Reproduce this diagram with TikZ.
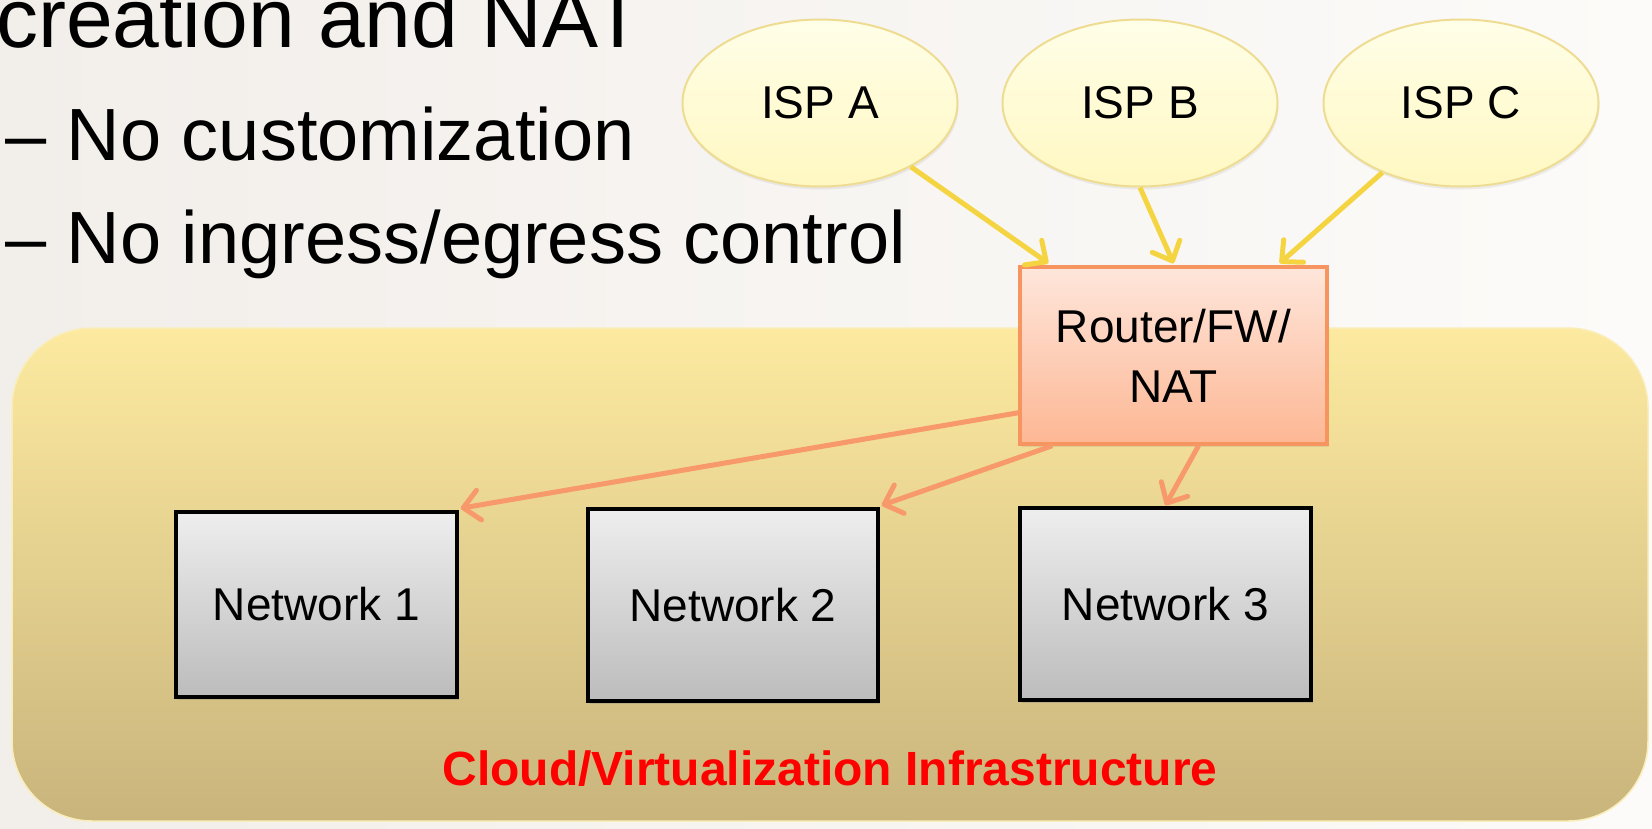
\documentclass[tikz,border=0pt]{standalone}
\usepackage{fontspec}
\setmainfont{Liberation Sans}
\usetikzlibrary{arrows.meta,shadows,shapes.geometric}

\definecolor{pageL}{HTML}{F2EEEA}
\definecolor{pageR}{HTML}{FCFBF9}
\definecolor{cloudTop}{HTML}{FDEAA0}
\definecolor{cloudBot}{HTML}{C9B47C}
\definecolor{cloudEdge}{HTML}{F9EDB9}
\definecolor{ispTop}{HTML}{FFFEE8}
\definecolor{ispBot}{HTML}{FFF8C2}
\definecolor{ispEdge}{HTML}{EEDC92}
\definecolor{fwTop}{HTML}{FEE6DB}
\definecolor{fwBot}{HTML}{FDB794}
\definecolor{fwEdge}{HTML}{F79560}
\definecolor{netTop}{HTML}{EEEEEE}
\definecolor{netBot}{HTML}{BCBCBC}
\definecolor{upLink}{HTML}{F5D442}
\definecolor{downLink}{HTML}{F7996A}
\definecolor{labelRed}{HTML}{FF0000}

\tikzset{
  isp/.style={ellipse, minimum width=275pt, minimum height=167pt, inner sep=0pt,
    draw=ispEdge, line width=2pt, top color=ispTop, bottom color=ispBot,
    drop shadow={opacity=0.12, shadow xshift=1pt, shadow yshift=-3pt},
    font=\fontsize{46}{55}\selectfont},
  fwbox/.style={rectangle, minimum width=307pt, minimum height=177pt, inner sep=0pt,
    draw=fwEdge, line width=3.5pt, top color=fwTop, bottom color=fwBot,
    drop shadow={opacity=0.18, shadow xshift=2pt, shadow yshift=-3pt},
    align=center, font=\fontsize{46}{60}\selectfont},
  netbox/.style={rectangle, inner sep=0pt, draw=black, line width=3.5pt,
    top color=netTop, bottom color=netBot,
    drop shadow={opacity=0.3, shadow xshift=2pt, shadow yshift=-3pt},
    font=\fontsize{46}{55}\selectfont},
  barb/.style={-{Straight Barb[length=16pt,width=30pt,round]}},
  uplink/.style={barb, draw=upLink, line width=5pt},
  downlink/.style={barb, draw=downLink, line width=5pt},
  bullet/.style={anchor=base west, inner sep=0pt},
}

\begin{document}
\begin{tikzpicture}[x=1pt,y=-1pt]
\useasboundingbox (0,0) rectangle (1652,828);
% slide background
\fill[left color=pageL, right color=pageR] (0,0) rectangle (1652,828);

% bullet text
\node[bullet, font=\fontsize{84}{92}\selectfont] (l1) at (-4,47) {creation and NAT};
\node[bullet, font=\fontsize{74}{84}\selectfont] (l2) at (5,160) {\textendash\ No customization};
\node[bullet, font=\fontsize{74}{84}\selectfont] (l3) at (5,263) {\textendash\ No ingress/egress control};

% infrastructure region
\node[rectangle, rounded corners=80pt, minimum width=1636pt, minimum height=493pt,
      inner sep=0pt, draw=cloudEdge, line width=1.5pt,
      top color=cloudTop, bottom color=cloudBot] (cloud) at (830,574.5) {};
\node[anchor=base, inner sep=0pt, text=labelRed,
      font=\fontsize{48}{56}\selectfont\bfseries] (cloudlabel) at (830,785)
      {Cloud/Virtualization Infrastructure};

% upstream providers
\node[isp] (ispA) at (820,103) {ISP A};
\node[isp] (ispB) at (1140,103) {ISP B};
\node[isp] (ispC) at (1461,103) {ISP C};

% gateway
\node[fwbox] (router) at (1173.5,355.5) {Router/FW/\\NAT};

% tenant networks
\node[netbox, minimum width=281pt, minimum height=185pt] (net1) at (316.5,604.5) {Network 1};
\node[netbox, minimum width=290pt, minimum height=192pt] (net2) at (733,605) {Network 2};
\node[netbox, minimum width=291pt, minimum height=192pt] (net3) at (1165.5,604) {Network 3};

% uplinks
\draw[uplink] (ispA) -- ([xshift=30pt,yshift=2pt]router.north west);
\draw[uplink] (ispB.south) -- ([yshift=2pt]router.north);
\draw[uplink] (ispC) -- ([xshift=-49pt,yshift=2pt]router.north east);

% downlinks
\draw[downlink] ([yshift=33pt]router.south west) -- ([xshift=2pt,yshift=2pt]net1.north east);
\draw[downlink] ([xshift=34pt]router.south west) -- ([xshift=2pt,yshift=2pt]net2.north east);
\draw[downlink] ([xshift=25pt]router.south) -- ([yshift=1pt]net3.north);
\end{tikzpicture}
\end{document}
